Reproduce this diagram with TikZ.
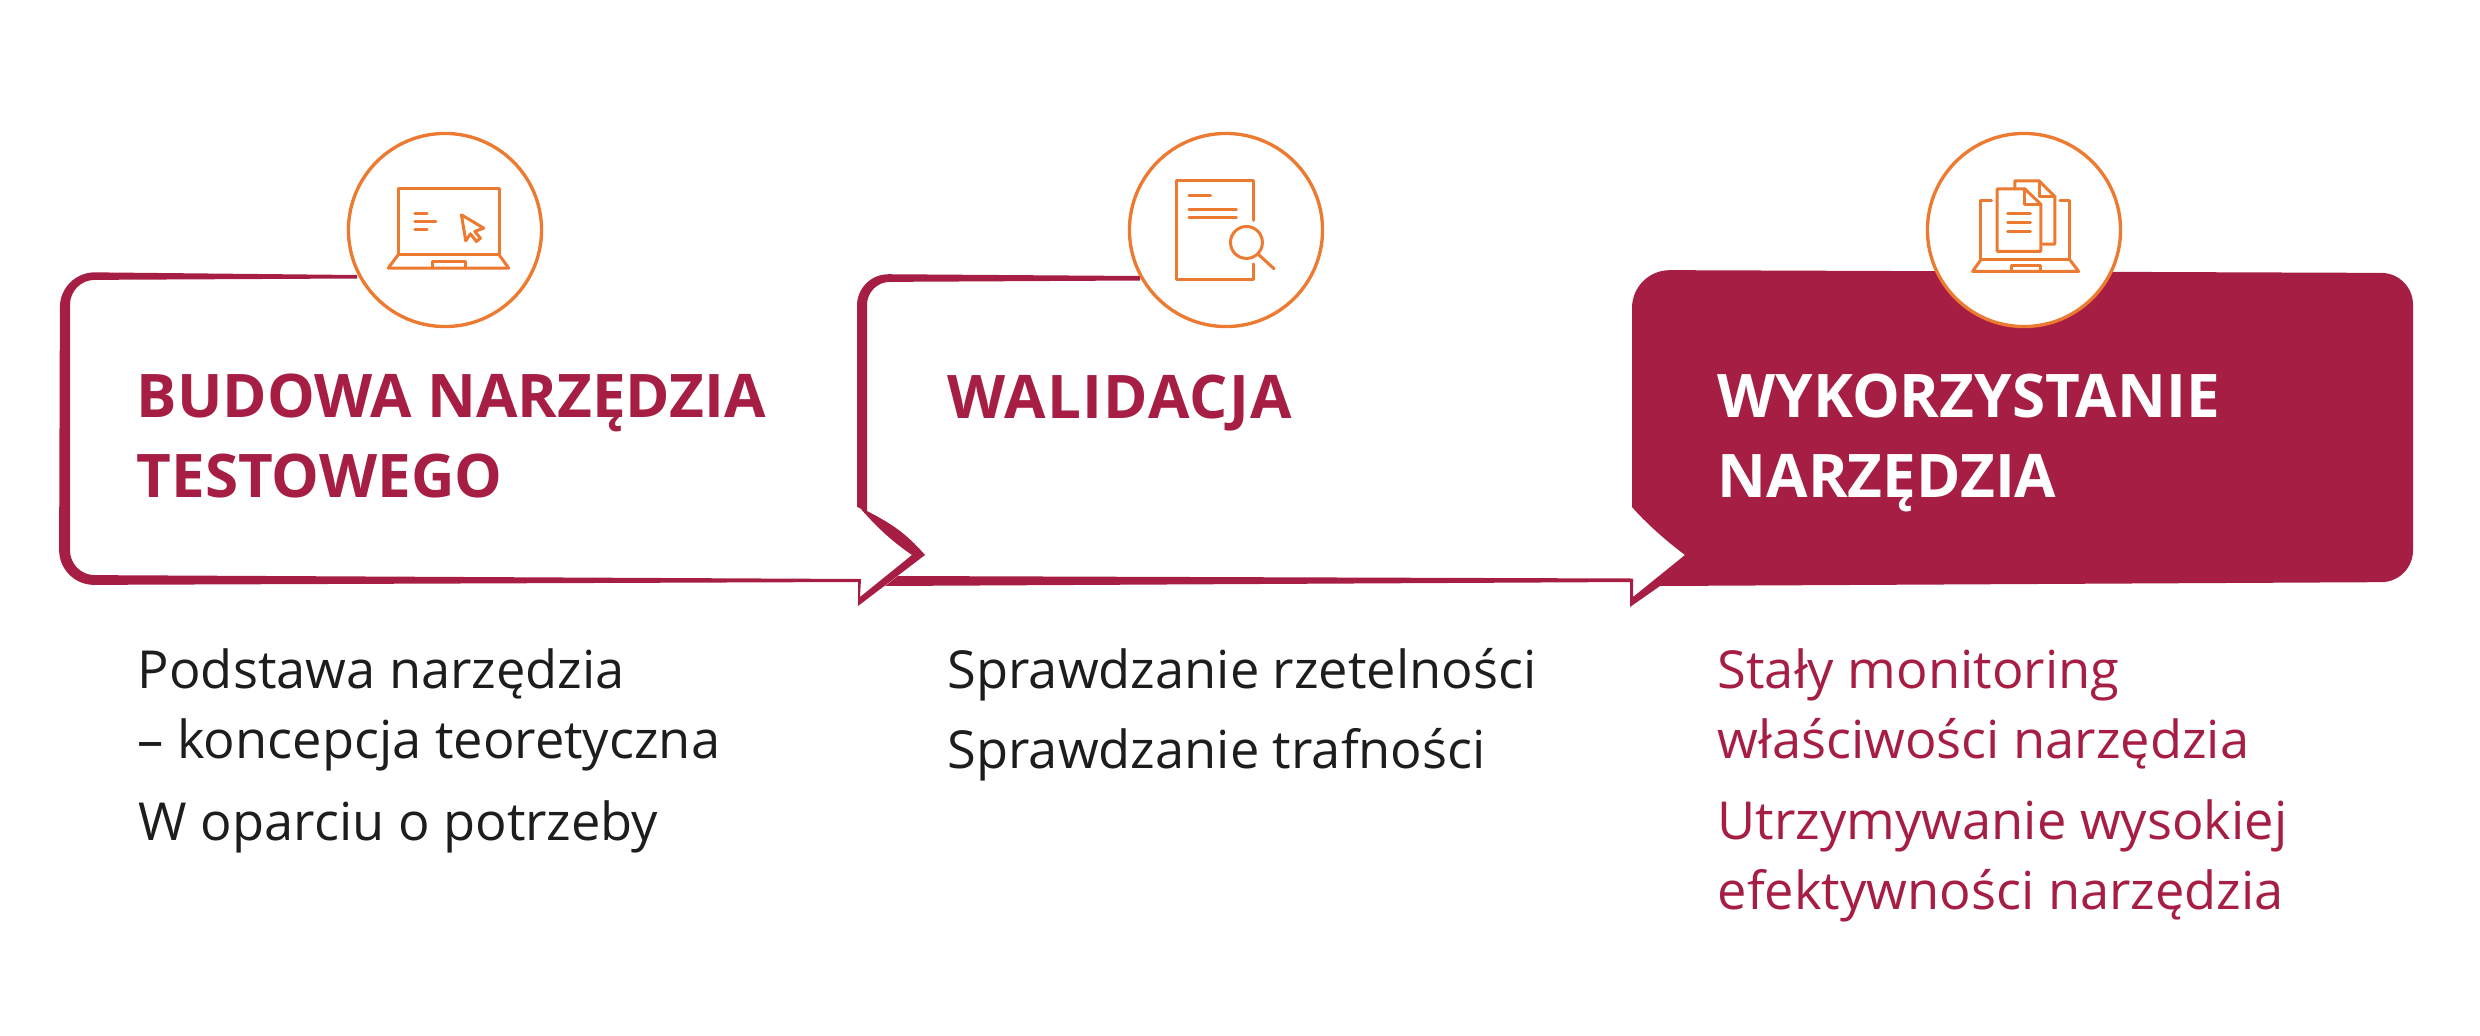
\documentclass[tikz,border=0pt]{standalone}
\usepackage{fontspec}
\setmainfont{Open Sans}
\definecolor{crimson}{HTML}{A61E43}
\definecolor{iconorange}{HTML}{EC7A30}
\definecolor{bodyblack}{HTML}{1D1D1B}
\tikzset{
	stepcircle/.style={circle, draw=iconorange, fill=white, line width=.95pt, minimum size=1.93cm, inner sep=0pt},
	iconline/.style={draw=iconorange, line width=.85pt, line join=round, line cap=round},
	headtext/.style={anchor=base west, align=left, inner sep=0pt, font=\fontsize{17.1}{22.5}\selectfont\bfseries},
	bodytext/.style={anchor=base west, align=left, inner sep=0pt, font=\fontsize{14.9}{19.9}\selectfont},
	iconscope/.style={x=0.0033333cm, y=-0.0033333cm},
}
\begin{document}
\begin{tikzpicture}[x=0.01cm, y=-0.01cm]
	\useasboundingbox (0,0) rectangle (2480,1036);
	
	\fill[crimson] (357,275) [rounded corners=10pt] -- (60,272) -- (59,585) [sharp corners] -- (858,582) -- (858,606) -- (925,555) -- (912,555) -- (860,597) -- (861,579) [rounded corners=7pt] -- (70,575) -- (70,280) [sharp corners] -- (357,278.5) -- cycle;
	\fill[crimson] (1140,276) [rounded corners=9pt] -- (857,274) [sharp corners] -- (857,507) -- (860,508) .. controls (875,525) and (890,540) .. (912,555) -- (925,555) .. controls (905,532) and (890,523) .. (867,511) [rounded corners=6.5pt] -- (867,282) [sharp corners] -- (1140,280.5) -- cycle;
	\fill[crimson] (898,576) -- (1633,578.5) -- (1633,582) -- (885,586) -- cycle;
	\fill[crimson] (1632,507) [rounded corners=10.8pt] -- (1632,270) [rounded corners=9pt] -- (2413,273) -- (2413,582) [sharp corners] -- (1660,586) -- (1630,607) -- (1630,580) -- (1633,580) -- (1633,597) -- (1685,555) .. controls (1665,540) and (1645,522) .. (1632,507) -- cycle;
	
	\node[stepcircle] (circlebudowa) at (445,230) {};
	\node[stepcircle] (circlewalidacja) at (1226,230) {};
	\node[stepcircle] (circlewykorzystanie) at (2024,230) {};
	
	\begin{scope}[shift={(320,110)}, iconscope]
		\draw[iconline] (235,435) -- (235,235) -- (538,235) -- (538,435) -- cycle;
		\draw[iconline] (235,435) -- (205,475) -- (567,475) -- (538,435);
		\draw[iconline] (338,475) -- (338,455) -- (437,455) -- (437,475);
		\draw[iconline] (285,310) -- (322,310);
		\draw[iconline] (285,335) -- (348,335);
		\draw[iconline] (285,358) -- (322,358);
		\draw[iconline] (425,315) -- (492,355) -- (465,365) -- (482,385) -- (470,395) -- (452,372) -- (438,393) -- cycle;
	\end{scope}
	\begin{scope}[shift={(1110,110)}, iconscope]
		\draw[iconline] (430,332) -- (430,213) -- (200,213) -- (200,508) -- (430,508) -- (430,462);
		\draw[iconline] (237,257) -- (302,257);
		\draw[iconline] (237,299) -- (380,299);
		\draw[iconline] (237,324) -- (380,324);
		\draw[iconline] (410,398) circle (48);
		\draw[iconline] (447,435) -- (493,477);
	\end{scope}
	\begin{scope}[shift={(1900,110)}, iconscope]
		\draw[iconline] (275,272) -- (243,272) -- (243,450) -- (510,450) -- (510,272) -- (480,272);
		\draw[iconline] (243,450) -- (218,485) -- (537,485) -- (510,450);
		\draw[iconline] (335,485) -- (335,467) -- (423,467) -- (423,485);
		\draw[iconline] (292,237) -- (375,237) -- (423,283) -- (423,425) -- (292,425) -- cycle;
		\draw[iconline] (375,237) -- (375,283) -- (423,283);
		\draw[iconline] (323,312) -- (392,312);
		\draw[iconline] (323,338) -- (392,338);
		\draw[iconline] (323,364) -- (392,364);
		\draw[iconline] (345,237) -- (345,213) -- (418,213) -- (465,260) -- (465,403) -- (430,403);
		\draw[iconline] (418,213) -- (418,260) -- (465,260);
	\end{scope}
	
	\node[headtext, text=crimson] (headbudowa) at (136,497) {BUDOWA NARZĘDZIA\\TESTOWEGO};
	\node[headtext, text=crimson] (headwalidacja) at (947,418) {\addfontfeature{LetterSpace=2}WALIDACJA};
	\node[headtext, text=white] (headwykorzystanie) at (1717,497) {WYKORZYSTANIE\\NARZĘDZIA};
	
	\node[bodytext, text=bodyblack] (podstawa) at (137,758) {Podstawa narzędzia\\– koncepcja teoretyczna};
	\node[bodytext, text=bodyblack] (potrzeby) at (138,840) {W oparciu o potrzeby};
	\node[bodytext, text=bodyblack] (rzetelnosc) at (947,688) {Sprawdzanie rzetelności};
	\node[bodytext, text=bodyblack] (trafnosc) at (947,768) {Sprawdzanie trafności};
	\node[bodytext, text=crimson] (monitoring) at (1717,758) {Stały monitoring\\właściwości narzędzia};
	\node[bodytext, text=crimson] (efektywnosc) at (1717,909) {Utrzymywanie wysokiej\\efektywności narzędzia};
\end{tikzpicture}
\end{document}
